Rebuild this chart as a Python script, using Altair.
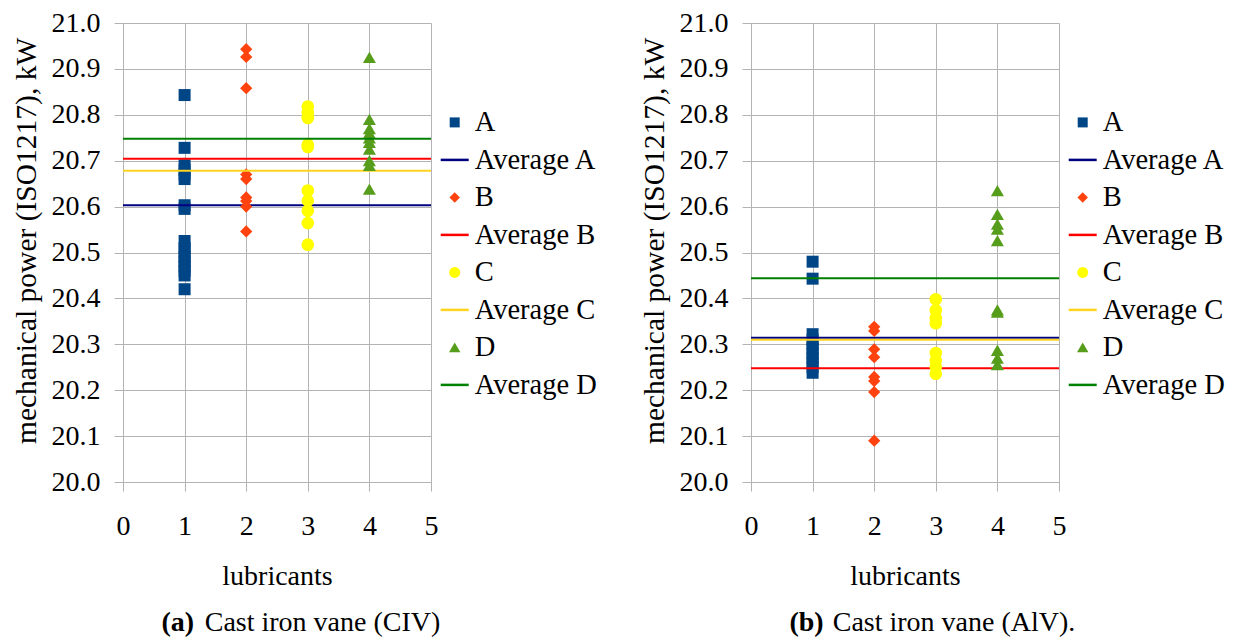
import altair as alt
import pandas as pd

FONT = "Liberation Serif"
AXFONT = "'Liberation Serif', 'Times New Roman', serif"

# ---------------- data ----------------
lubricant_ticks = [0, 1, 2, 3, 4, 5]
power_ticks = [20.0, 20.1, 20.2, 20.3, 20.4, 20.5, 20.6, 20.7, 20.8, 20.9, 21.0]

series = ["A", "B", "C", "D"]
series_x = [1, 2, 3, 4]
avg_names = ["Average A", "Average B", "Average C", "Average D"]

# panel (a) Cast iron vane (CIV)
a_A = [20.843, 20.728, 20.69, 20.68, 20.67, 20.66, 20.603, 20.595, 20.525,
       20.51, 20.50, 20.49, 20.48, 20.47, 20.46, 20.45, 20.42]
a_B = [20.943, 20.926, 20.858, 20.670, 20.660, 20.620, 20.612, 20.600, 20.546]
a_C = [20.818, 20.805, 20.793, 20.735, 20.730, 20.635, 20.613, 20.591, 20.564, 20.517]
a_D = [20.925, 20.79, 20.77, 20.76, 20.75, 20.74, 20.725, 20.70, 20.69, 20.638]
a_avg = [20.603, 20.704, 20.678, 20.748]

# panel (b) Cast iron vane (AlV)
b_A = [20.480, 20.443, 20.322, 20.31, 20.30, 20.29, 20.28, 20.27, 20.26, 20.25, 20.238]
b_B = [20.338, 20.329, 20.289, 20.272, 20.229, 20.220, 20.196, 20.090]
b_C = [20.398, 20.374, 20.357, 20.346, 20.281, 20.265, 20.251, 20.236]
b_D = [20.635, 20.583, 20.562, 20.551, 20.526, 20.375, 20.370, 20.287, 20.270, 20.256]
b_avg = [20.314, 20.248, 20.310, 20.444]

caption_a = ["(a)", "Cast iron vane (CIV)"]
caption_b = ["(b)", "Cast iron vane (AlV)."]

legend_entries = ["A", "Average A", "B", "Average B", "C", "Average C", "D", "Average D"]
legend_kind = ["marker", "line"] * 4
entry_colors = ["#004586", "#000080", "#ff420e", "#ff0000",
                "#ffff00", "#ffd320", "#579d1c", "#008000"]
marker_shapes = ["square", "diamond", "circle", "triangle-up"]
marker_sizes = [144, 150, 160, 170]
legend_marker_sizes = [100, 110, 120, 130]

# ---------------- layout ----------------
W, H = 308, 459
LEG_W = 299.7
GRID = "#b3b3b3"

color_scale = alt.Scale(domain=legend_entries, range=entry_colors)


def make_panel(values, avgs, caption):
    pts = []
    for s, xv, vals in zip(series, series_x, values):
        for v in vals:
            pts.append({"lub": xv, "power": v, "entry": s})
    pts = pd.DataFrame(pts)
    avg_df = pd.DataFrame({"entry": avg_names, "power": avgs,
                           "x0": [lubricant_ticks[0]] * 4, "x1": [lubricant_ticks[-1]] * 4})

    xs = alt.Scale(domain=[lubricant_ticks[0], lubricant_ticks[-1]], nice=False)
    ys = alt.Scale(domain=[power_ticks[0], power_ticks[-1]], nice=False, zero=False)
    xaxis = alt.Axis(values=lubricant_ticks, format="d", title="lubricants",
                     labelFont=AXFONT, titleFont=AXFONT, labelFontSize=28, titleFontSize=28,
                     labelFlush=False, tickSize=9, labelPadding=21, titlePadding=22)
    yaxis = alt.Axis(values=power_ticks, format=".1f",
                     title="mechanical power (ISO1217), kW",
                     labelFont=AXFONT, titleFont=AXFONT, labelFontSize=28, titleFontSize=29.5,
                     labelFlush=False, tickSize=9, labelPadding=14, titlePadding=10,
                     titleY=217.4)

    layers = []
    for i, s in enumerate(series):
        p = alt.Chart(pts[pts.entry == s]).mark_point(
            filled=True, opacity=1, shape=marker_shapes[i], size=marker_sizes[i],
            strokeWidth=0
        ).encode(
            x=alt.X("lub:Q", scale=xs, axis=xaxis),
            y=alt.Y("power:Q", scale=ys, axis=yaxis),
            color=alt.Color("entry:N", scale=color_scale, legend=None),
        )
        r = alt.Chart(avg_df[avg_df.entry == avg_names[i]]).mark_rule(strokeWidth=2).encode(
            x=alt.X("x0:Q", scale=xs, axis=xaxis),
            x2="x1:Q",
            y=alt.Y("power:Q", scale=ys, axis=yaxis),
            color=alt.Color("entry:N", scale=color_scale, legend=None),
        )
        layers += [p, r]

    cap1 = alt.Chart(pd.DataFrame({"t": [caption[0]]})).mark_text(
        align="left", baseline="alphabetic", font=FONT, fontSize=28,
        fontWeight="bold", color="black"
    ).encode(x=alt.value(38.4), y=alt.value(608.4), text="t:N")
    cap2 = alt.Chart(pd.DataFrame({"t": [caption[1]]})).mark_text(
        align="left", baseline="alphabetic", font=FONT, fontSize=28,
        color="black"
    ).encode(x=alt.value(81.7), y=alt.value(608.4), text="t:N")
    layers += [cap1, cap2]
    return alt.layer(*layers).properties(width=W, height=H)


def make_legend(width):
    df = pd.DataFrame({"entry": legend_entries, "kind": legend_kind})
    ys = alt.Scale(type="point", domain=legend_entries, range=[99.4, 361.9], padding=0)
    cx = 13.7
    layers = []
    for i, s in enumerate(series):
        layers.append(alt.Chart(df[df.entry == s]).mark_point(
            filled=True, opacity=1, size=legend_marker_sizes[i], strokeWidth=0,
            shape=marker_shapes[i]
        ).encode(
            x=alt.value(cx),
            y=alt.Y("entry:N", scale=ys, axis=None),
            color=alt.Color("entry:N", scale=color_scale, legend=None),
        ))
    ln = alt.Chart(df[df.kind == "line"]).mark_rule(strokeWidth=2.5).encode(
        x=alt.value(cx - 14), x2=alt.value(cx + 14),
        y=alt.Y("entry:N", scale=ys, axis=None),
        color=alt.Color("entry:N", scale=color_scale, legend=None),
    )
    tx = alt.Chart(df).mark_text(
        align="left", baseline="middle", font=FONT, fontSize=28.5, color="black"
    ).encode(
        x=alt.value(cx + 20),
        y=alt.Y("entry:N", scale=ys, axis=None),
        text="entry:N",
    )
    return alt.layer(*layers, ln, tx).properties(width=width, height=H)


panel_a = make_panel([a_A, a_B, a_C, a_D], a_avg, caption_a)
panel_b = make_panel([b_A, b_B, b_C, b_D], b_avg, caption_b)

chart = alt.hconcat(
    panel_a, make_legend(LEG_W), panel_b, make_legend(140), spacing=10, bounds="flush"
).resolve_scale(
    x="independent", y="independent", color="independent"
).configure(
    font=FONT,
    style={"guide-label": {"font": AXFONT}, "guide-title": {"font": AXFONT}},
).configure_view(
    stroke=None
).configure_axis(
    labelFont=AXFONT, titleFont=AXFONT, labelFontSize=28, titleFontSize=28,
    labelColor="black", titleColor="black", titleFontWeight="normal",
    gridColor=GRID, domainColor=GRID, tickColor=GRID, gridWidth=1,
    domainWidth=1, tickWidth=1,
).properties(
    padding={"left": 3, "top": 1, "right": 0, "bottom": 0},
    background="white",
)

chart.save("out.html", embed_options={"renderer": "svg", "actions": False})
